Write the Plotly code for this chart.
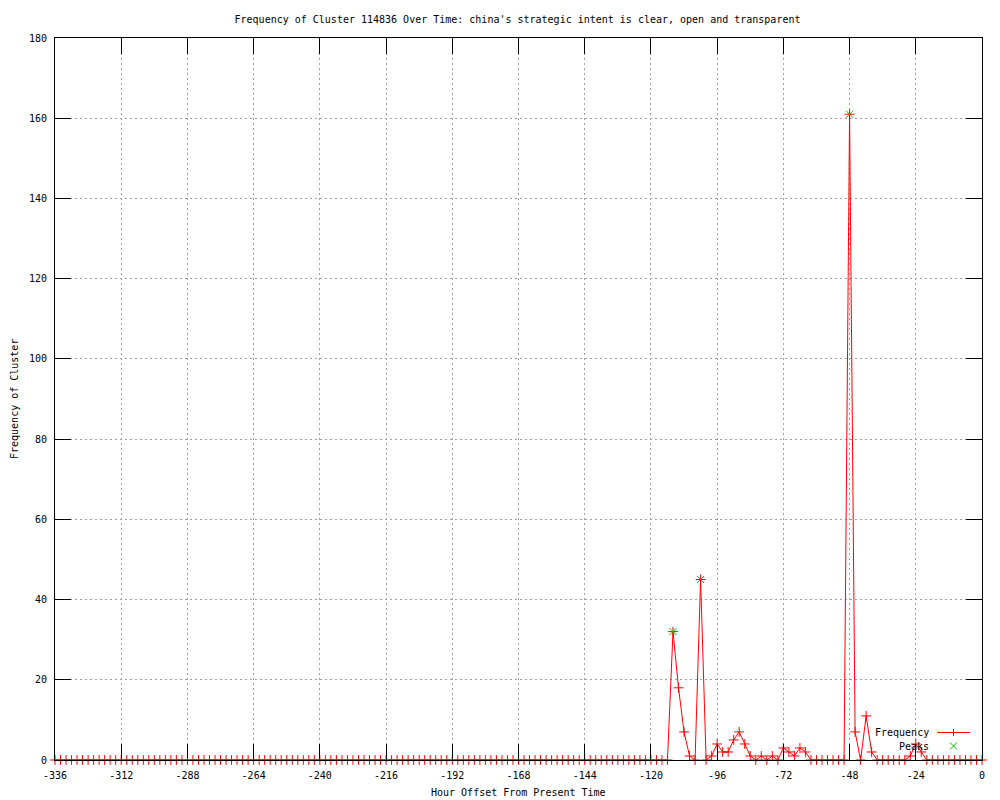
import plotly.graph_objects as go

# ---- data ----
hours = list(range(-336, 1, 2))
frequency = [
    0, 0, 0, 0, 0, 0, 0, 0, 0, 0, 0, 0,        # -336 .. -314
    0, 0, 0, 0, 0, 0, 0, 0, 0, 0, 0, 0,        # -312 .. -290
    0, 0, 0, 0, 0, 0, 0, 0, 0, 0, 0, 0,        # -288 .. -266
    0, 0, 0, 0, 0, 0, 0, 0, 0, 0, 0, 0,        # -264 .. -242
    0, 0, 0, 0, 0, 0, 0, 0, 0, 0, 0, 0,        # -240 .. -218
    0, 0, 0, 0, 0, 0, 0, 0, 0, 0, 0, 0,        # -216 .. -194
    0, 0, 0, 0, 0, 0, 0, 0, 0, 0, 0, 0,        # -192 .. -170
    0, 0, 0, 0, 0, 0, 0, 0, 0, 0, 0, 0,        # -168 .. -146
    0, 0, 0, 0, 0, 0, 0, 0, 0, 0, 0, 0,        # -144 .. -122
    0, 0, 0, 0, 32, 18, 7, 1, 0, 45, 0, 1,     # -120 .. -98
    4, 2, 2, 5, 7, 4, 1, 0, 1, 0, 1, 0,        # -96 .. -74
    3, 2, 1, 3, 2, 0, 0, 0, 0, 0, 0, 0,        # -72 .. -50
    161, 7, 0, 11, 2, 0, 0, 0, 0, 0, 0, 1,     # -48 .. -26
    4, 2, 0, 0, 0, 0, 0, 0, 0, 0, 0, 0,        # -24 .. -2
    0,                                         # 0
]
peak_hours = [-112, -102, -48]
peak_values = [32, 45, 161]

x_ticks = list(range(-336, 1, 24))
x_tick_labels = [str(v) for v in x_ticks]
y_ticks = list(range(0, 181, 20))
y_tick_labels = [str(v) for v in y_ticks]

title_text = "Frequency of Cluster 114836 Over Time: china's strategic intent is clear, open and transparent"
x_title = "Hour Offset From Present Time"
y_title = "Frequency of Cluster"

FONT = "DejaVu Sans Mono"
RED = "#ff0000"
GREEN = "#00c000"

# The page body has an 8px margin, so the figure is 992x792 placed at (8, 8).
W, H = 992, 792
OFF = 8

fig = go.Figure()
fig.add_trace(go.Scatter(
    x=hours, y=frequency, mode="lines+markers", name="Frequency",
    line=dict(color=RED, width=1),
    marker=dict(symbol="cross-thin", size=7, line=dict(color=RED, width=1), color=RED),
    cliponaxis=False, showlegend=False,
))
fig.add_trace(go.Scatter(
    x=peak_hours, y=peak_values, mode="markers", name="Peaks",
    marker=dict(symbol="x-thin", size=7, line=dict(color=GREEN, width=1), color=GREEN),
    cliponaxis=False, showlegend=False,
))

axis_common = dict(
    showline=True, linecolor="black", linewidth=1, mirror="allticks",
    ticks="inside", ticklen=16, tickwidth=1, tickcolor="black",
    showgrid=True, gridcolor="#a0a0a0", gridwidth=1, griddash="2px,3px",
    zeroline=False, tickfont=dict(family=FONT, size=10, color="black"),
    layer="above traces",
)

fig.update_xaxes(range=[-336, 0], tickvals=x_ticks, ticktext=x_tick_labels,
                 ticklabelstandoff=6, **axis_common)
fig.update_yaxes(range=[0, 180], tickvals=y_ticks, ticktext=y_tick_labels,
                 ticklabelstandoff=5, **axis_common)

# legend (gnuplot style: text left, sample right), positioned in paper coords
pw, ph = 927.0, 722.0
def px(xp):
    return (xp - 55) / pw
def py(yp):
    return (760 - yp) / ph

shapes = [
    dict(type="line", xref="paper", yref="paper", x0=px(937), x1=px(970), y0=py(732.5), y1=py(732.5),
         line=dict(color=RED, width=1)),
    dict(type="line", xref="paper", yref="paper", x0=px(953.5), x1=px(953.5), y0=py(729), y1=py(736),
         line=dict(color=RED, width=1)),
    dict(type="line", xref="paper", yref="paper", x0=px(950), x1=px(957), y0=py(742.5), y1=py(749.5),
         line=dict(color=GREEN, width=1)),
    dict(type="line", xref="paper", yref="paper", x0=px(950), x1=px(957), y0=py(749.5), y1=py(742.5),
         line=dict(color=GREEN, width=1)),
]

annotations = [
    dict(text="Frequency", xref="paper", yref="paper", x=px(931), y=py(732.5),
         xanchor="right", yanchor="middle", showarrow=False,
         font=dict(family=FONT, size=10, color="black")),
    dict(text="Peaks", xref="paper", yref="paper", x=px(931), y=py(746),
         xanchor="right", yanchor="middle", showarrow=False,
         font=dict(family=FONT, size=10, color="black")),
    dict(text=x_title, xref="paper", yref="paper", x=0.5, y=py(792),
         xanchor="center", yanchor="middle", showarrow=False,
         font=dict(family=FONT, size=10, color="black")),
    dict(text=y_title, xref="paper", yref="paper", x=px(14), y=0.5, textangle=-90,
         xanchor="center", yanchor="middle", showarrow=False,
         font=dict(family=FONT, size=10, color="black")),
]

fig.update_layout(
    width=W, height=H,
    margin=dict(l=55 - OFF, r=18, t=38 - OFF, b=40),
    paper_bgcolor="white", plot_bgcolor="white",
    title=dict(text=title_text, x=(517.5 - OFF) / W, xref="container", xanchor="center",
               y=1 - (19 - OFF) / H, yref="container", yanchor="middle",
               font=dict(family=FONT, size=10, color="black")),
    shapes=shapes, annotations=annotations,
    showlegend=False,
)

fig.write_html("out.html")
